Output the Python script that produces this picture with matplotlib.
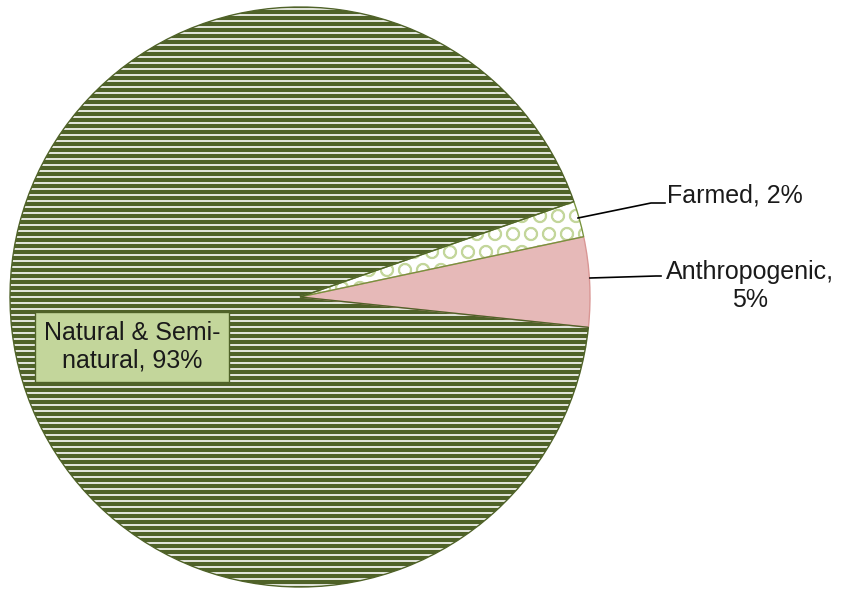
import matplotlib.pyplot as plt

# land cover shares
labels = ['Anthropogenic', 'Farmed', 'Natural & Semi-\nnatural']
shares = [5, 2, 93]

fill_colors = ['#E6B9B8', 'white', '#4F6228']
hatch_colors = ['#E6B9B8', '#C3D69B', 'white']
hatches = [None, 'O', '---']
edge_colors = ['#D99694', '#77933C', '#4F6228']

DPI = 108
plt.rcParams['hatch.linewidth'] = 1.1
plt.rcParams['font.family'] = ['Liberation Sans', 'DejaVu Sans']

fig = plt.figure(figsize=(846 / DPI, 591 / DPI), dpi=DPI)
ax = fig.add_axes([0, 0, 1, 1])

center = (300, 294)
radius = 290

# filled wedges with hatching (hatch takes the edge colour)
wedges, _ = ax.pie(shares, startangle=-6, counterclock=True,
                   center=center, radius=radius, frame=True)
for w, fc, hc, h in zip(wedges, fill_colors, hatch_colors, hatches):
    w.set_facecolor(fc)
    w.set_edgecolor(hc)
    w.set_linewidth(0)
    if h:
        w.set_hatch(h)

# outlines on top
outl, _ = ax.pie(shares, startangle=-6, counterclock=True,
                 center=center, radius=radius, frame=True)
for w, ec in zip(outl, edge_colors):
    w.set_facecolor('none')
    w.set_edgecolor(ec)
    w.set_linewidth(0.9)

ax.set_xlim(0, 846)
ax.set_ylim(0, 591)
ax.set_aspect('equal')
ax.axis('off')

# leader lines and labels
fs = 18 * 100 / DPI
ax.plot([578, 651, 665], [591 - 218, 591 - 203, 591 - 203], color='black', lw=1.1)
ax.text(667, 591 - 195, f'{labels[1]}, {shares[1]}%', fontsize=fs,
        ha='left', va='center', color='#1a1a1a')

ax.plot([590, 656, 661], [591 - 278, 591 - 276, 591 - 276], color='black', lw=1.1)
ax.text(750, 591 - 286, f'{labels[0]},\n{shares[0]}%', fontsize=fs,
        ha='center', va='center', color='#1a1a1a', linespacing=1.2)

ax.text(132, 591 - 347, f'{labels[2]}, {shares[2]}%', fontsize=fs,
        ha='center', va='center', color='#1a1a1a', linespacing=1.2,
        bbox=dict(boxstyle='square,pad=0.35', facecolor='#C3D69B',
                  edgecolor='#4F6228', linewidth=0.9))

fig.savefig('out.png', dpi=DPI)
